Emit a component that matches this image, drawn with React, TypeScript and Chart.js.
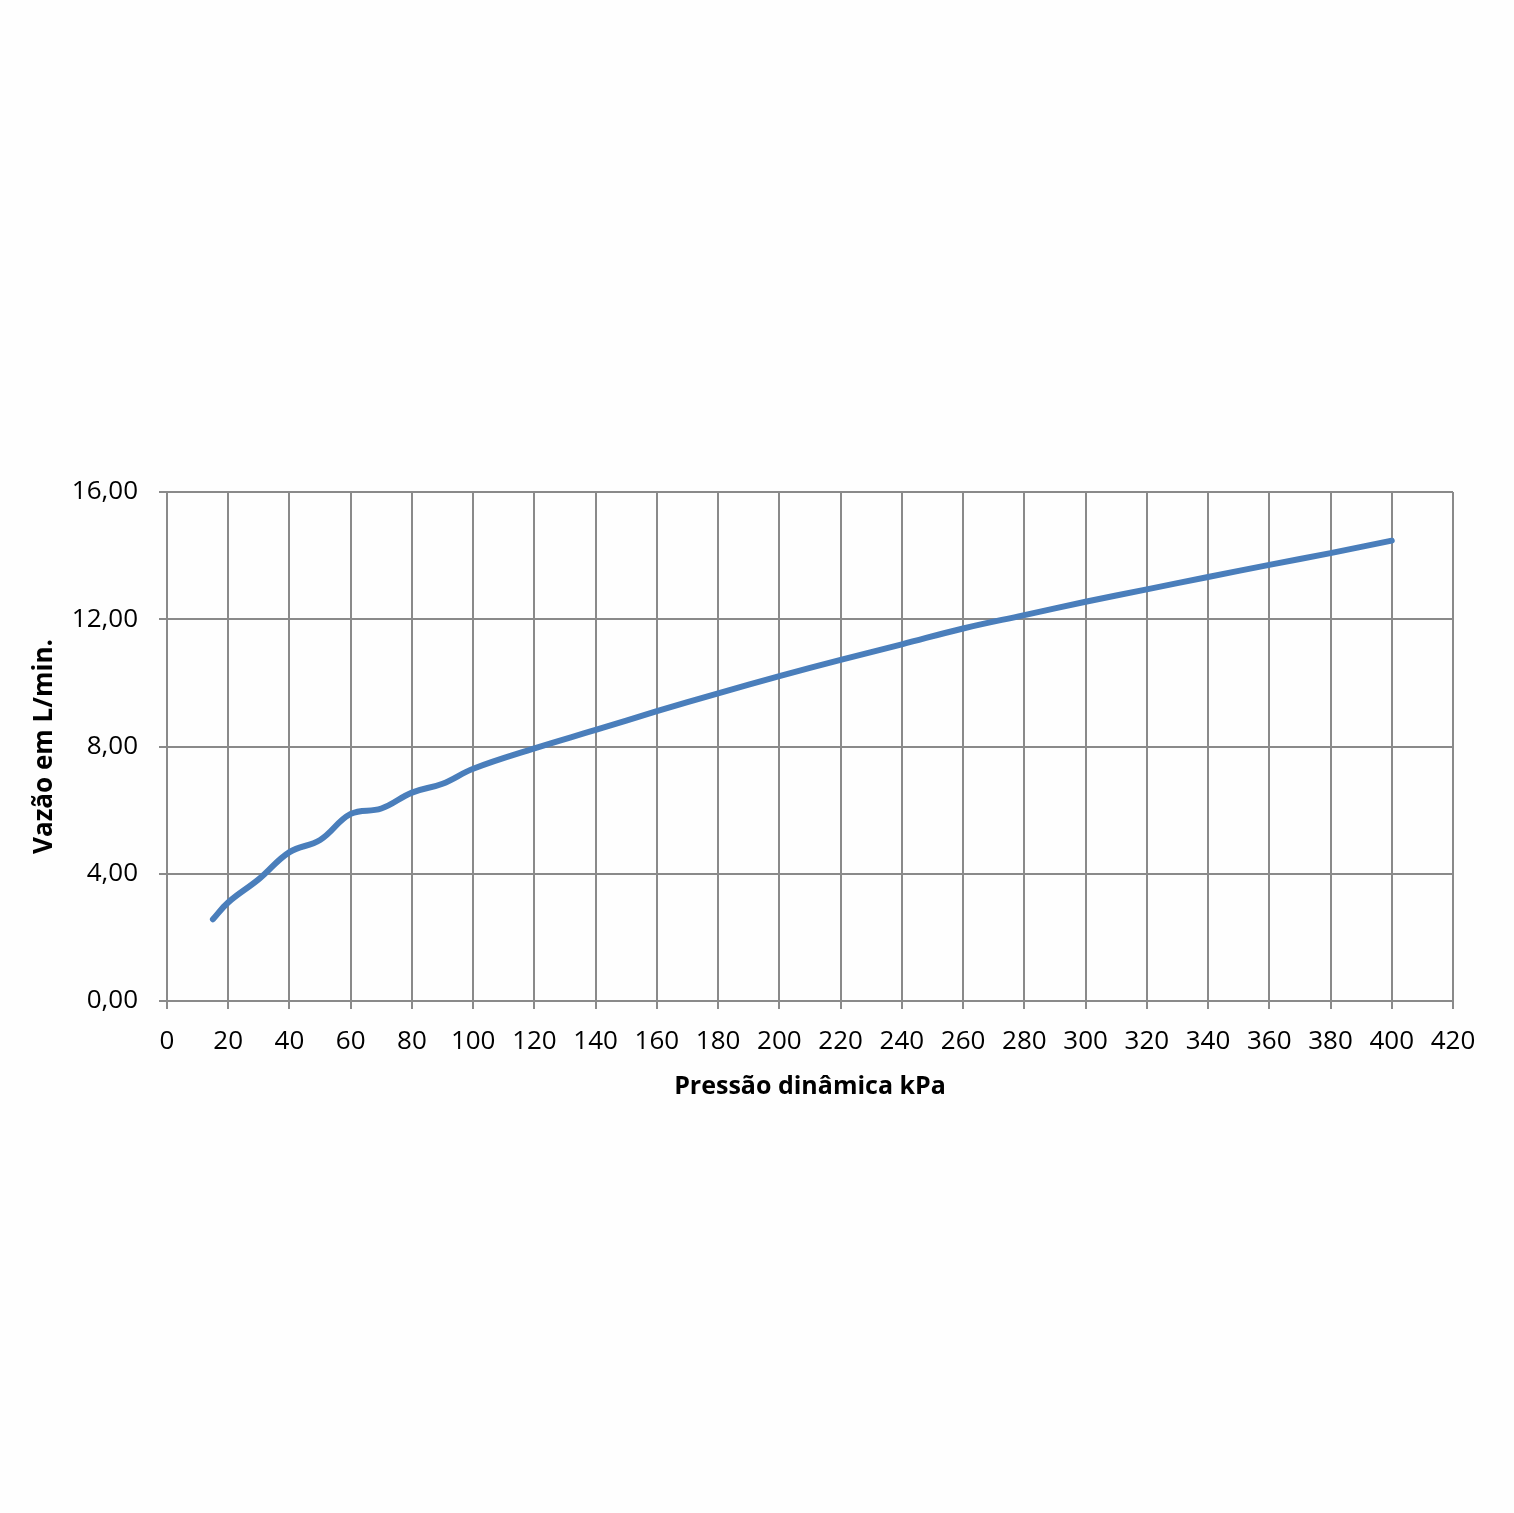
import React, { useEffect, useRef } from "react";
import { Chart, registerables } from "chart.js";

Chart.register(...registerables);

const pressureKPa = [15, 20, 30, 40, 50, 60, 70, 80, 90, 100, 120, 140, 160, 180, 200, 220, 240, 260, 280, 300, 320, 340, 360, 380, 400];
const flowLmin = [2.57, 3.1, 3.83, 4.68, 5.06, 5.88, 6.05, 6.55, 6.83, 7.3, 7.94, 8.52, 9.11, 9.67, 10.21, 10.72, 11.21, 11.71, 12.13, 12.55, 12.94, 13.33, 13.71, 14.08, 14.47];

const xTitle = "Pressão dinâmica kPa";
const yTitle = "Vazão em L/min.";

const W = 1514;
const H = 1513;

export default function App() {
  const ref = useRef<HTMLCanvasElement | null>(null);

  useEffect(() => {
    if (!ref.current) return;
    const gridColor = "#8a8a8a";
    const font = "'Open Sans', 'Noto Sans', sans-serif";
    const chart = new Chart(ref.current, {
      type: "line",
      data: {
        datasets: [
          {
            data: pressureKPa.map((x, i) => ({ x, y: flowLmin[i] })),
            borderColor: "#4a7ebb",
            borderWidth: 6,
            pointRadius: 0,
            tension: 0.4,
            fill: false,
            borderCapStyle: "round",
            borderJoinStyle: "round",
          },
        ],
      },
      options: {
        responsive: false,
        animation: false,
        layout: { padding: { left: 25, top: 492, right: 61, bottom: 407 } },
        plugins: { legend: { display: false }, tooltip: { enabled: false } },
        scales: {
          x: {
            type: "linear",
            min: 0,
            max: 420,
            afterFit: (s: any) => { s.height = 105; },
            ticks: {
              stepSize: 20,
              color: "#000",
              font: { family: font, size: 26 },
              padding: 17,
              maxRotation: 0,
              autoSkip: false,
            },
            grid: { color: gridColor, lineWidth: 2, tickLength: 8, tickColor: gridColor },
            border: { color: gridColor, width: 2 },
            title: {
              display: true,
              text: xTitle,
              color: "#000",
              font: { family: font, size: 25, weight: "bold" },
              padding: { top: 4, bottom: 4 },
            },
          },
          y: {
            min: 0,
            max: 16,
            afterFit: (s: any) => { s.width = 142; },
            ticks: {
              stepSize: 4,
              color: "#000",
              font: { family: font, size: 26 },
              padding: 21,
              callback: (v: any) => Number(v).toFixed(2).replace(".", ","),
            },
            grid: { color: gridColor, lineWidth: 2, tickLength: 8, tickColor: gridColor },
            border: { color: gridColor, width: 2 },
            title: {
              display: true,
              text: yTitle,
              color: "#000",
              font: { family: font, size: 26, weight: "bold" },
              padding: { top: 4, bottom: 0 },
            },
          },
        },
      },
    });
    return () => chart.destroy();
  }, []);

  return (
    <div style={{ position: "absolute", left: 0, top: 0, width: W, height: H, background: "#fefefe" }}>
      <canvas ref={ref} width={W} height={H} style={{ width: W, height: H, display: "block" }} />
    </div>
  );
}
